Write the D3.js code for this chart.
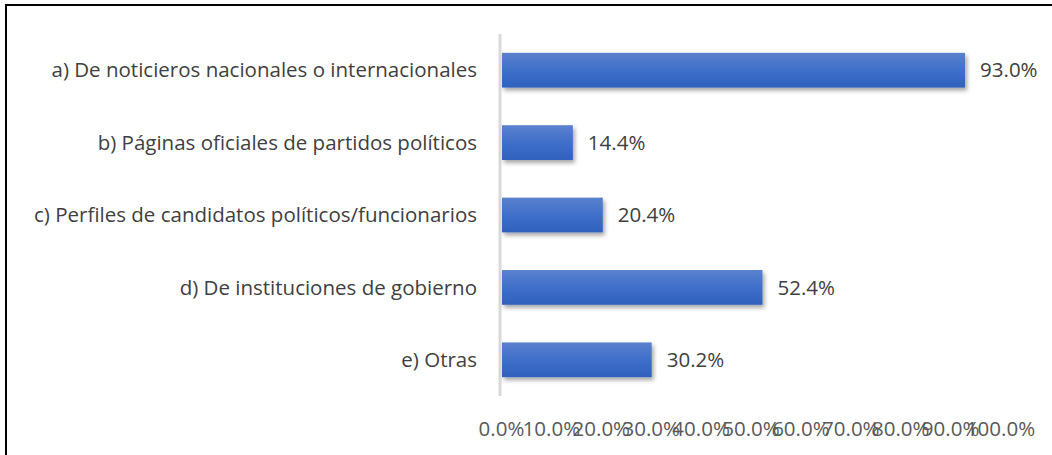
<!DOCTYPE html>
<html>
<head>
<meta charset="utf-8">
<script src="https://cdn.jsdelivr.net/npm/d3@7"></script>
<style>
  body { margin: 0; background: #fff; }
  svg { display: block; }
</style>
</head>
<body>
<svg width="1052" height="455"></svg>
<script>
// Datos
const categories = [
  "a) De noticieros nacionales o internacionales",
  "b) Páginas oficiales de partidos políticos",
  "c) Perfiles de candidatos políticos/funcionarios",
  "d) De instituciones de gobierno",
  "e) Otras"
];
const values = [0.930, 0.144, 0.204, 0.524, 0.302];
const ticks = [0, 0.1, 0.2, 0.3, 0.4, 0.5, 0.6, 0.7, 0.8, 0.9, 1.0];

const svg = d3.select("svg");
const font = "'Open Sans', 'Noto Sans', sans-serif";

// marco
svg.append("line").attr("x1", 5).attr("x2", 1052).attr("y1", 5).attr("y2", 5)
  .attr("stroke", "#000").attr("stroke-width", 2);
svg.append("line").attr("x1", 6).attr("x2", 6).attr("y1", 4).attr("y2", 455)
  .attr("stroke", "#000").attr("stroke-width", 2);

// gradiente y sombra
const defs = svg.append("defs");
const grad = defs.append("linearGradient").attr("id", "barGrad")
  .attr("x1", 0).attr("y1", 0).attr("x2", 0).attr("y2", 1);
grad.append("stop").attr("offset", "0%").attr("stop-color", "#5b81cd");
grad.append("stop").attr("offset", "50%").attr("stop-color", "#3f6fca");
grad.append("stop").attr("offset", "100%").attr("stop-color", "#2f61bd");
const sh = defs.append("filter").attr("id", "shadow")
  .attr("x", "-5%").attr("y", "-20%").attr("width", "115%").attr("height", "160%");
sh.append("feDropShadow").attr("dx", 2).attr("dy", 3).attr("stdDeviation", 2)
  .attr("flood-color", "#000").attr("flood-opacity", 0.35);

// escalas
const x = d3.scaleLinear().domain([0, 1]).range([501, 1000]);
const y = d3.scaleBand().domain(categories).range([34, 396]).paddingInner(0.52).paddingOuter(0.26);

// eje vertical
svg.append("line").attr("x1", 500).attr("x2", 500).attr("y1", 34).attr("y2", 396)
  .attr("stroke", "#d9d9d9").attr("stroke-width", 3);

// barras
svg.append("g").selectAll("rect").data(values).join("rect")
  .attr("x", x(0) + 1)
  .attr("y", (d, i) => y(categories[i]))
  .attr("width", d => x(d) - x(0) - 1)
  .attr("height", y.bandwidth())
  .attr("fill", "url(#barGrad)")
  .attr("filter", "url(#shadow)");

// etiquetas de valor
svg.append("g").selectAll("text").data(values).join("text")
  .attr("x", d => x(d) + 15)
  .attr("y", (d, i) => y(categories[i]) + y.bandwidth() / 2)
  .attr("dy", "0.35em")
  .attr("font-family", font).attr("font-size", 20.5).attr("fill", "#404040")
  .text(d => d3.format(".1%")(d));

// categorías
svg.append("g").selectAll("text").data(categories).join("text")
  .attr("x", 477)
  .attr("y", d => y(d) + y.bandwidth() / 2)
  .attr("dy", "0.35em")
  .attr("text-anchor", "end")
  .attr("font-family", font).attr("font-size", 20.5).attr("fill", "#404040")
  .text(d => d);

// eje x
const xAxis = svg.append("g").attr("transform", "translate(0,418)")
  .call(d3.axisBottom(x).tickValues(ticks).tickFormat(d3.format(".1%")).tickSize(0));
xAxis.select(".domain").remove();
xAxis.selectAll("text")
  .attr("font-family", font).attr("font-size", 20.5).attr("fill", "#595959")
  .attr("dy", "0.71em");
</script>
</body>
</html>
